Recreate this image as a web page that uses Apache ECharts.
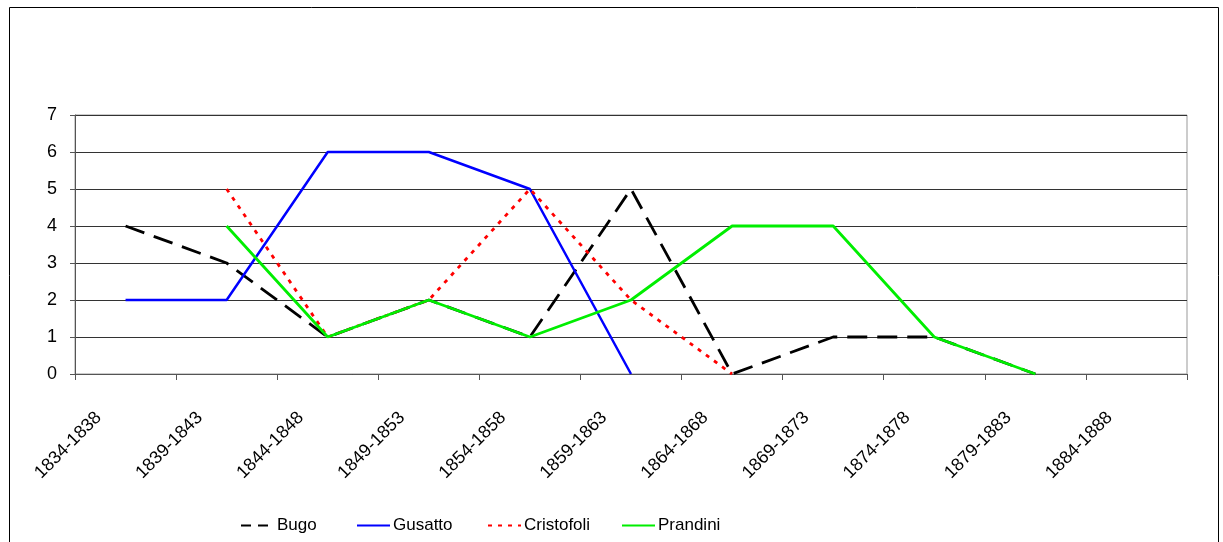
<!DOCTYPE html>
<html>
<head>
<meta charset="utf-8">
<script src="https://cdn.jsdelivr.net/npm/echarts@6/dist/echarts.min.js"></script>
<style>
  html, body { margin: 0; padding: 0; background: #fff; }
  #chart { width: 1223px; height: 542px; }
</style>
</head>
<body>
<div id="chart"></div>
<script>
var categories = ['1834-1838', '1839-1843', '1844-1848', '1849-1853', '1854-1858', '1859-1863',
                  '1864-1868', '1869-1873', '1874-1878', '1879-1883', '1884-1888'];
var bugo       = [4, 3, 1, 2, 1, 5, 0, 1, 1, 0, null];
var gusatto    = [2, 2, 6, 6, 5, 0, null, null, null, null, null];
var cristofoli = [null, 5, 1, 2, 5, 2, 0, null, null, null, null];
var prandini   = [null, 4, 1, 2, 1, 2, 4, 4, 1, 0, null];

var font = "'Liberation Sans', Arial, sans-serif";
var chart = echarts.init(document.getElementById('chart'));

function legendAt(name, left, dash) {
    var l = {
        data: [name],
        left: left,
        top: 512,
        itemWidth: 33,
        itemHeight: 14,
        itemGap: 0,
        itemStyle: { opacity: 0 },
        textStyle: { fontFamily: font, fontSize: 17, color: '#000', padding: [0, 0, 0, -2] }
    };
    if (dash) l.lineStyle = { type: dash };
    return l;
}

var option = {
    animation: false,
    backgroundColor: '#fff',
    graphic: [{
        type: 'rect',
        shape: { x: 9.5, y: 7.5, width: 1209, height: 560 },
        style: { fill: 'none', stroke: '#000', lineWidth: 1 },
        silent: true
    }],
    grid: {
        left: 75, right: 36, top: 115, bottom: 168,
        show: true, borderColor: '#999', borderWidth: 1
    },
    legend: [
        legendAt('Bugo', 235, [10, 7]),
        legendAt('Gusatto', 351),
        legendAt('Cristofoli', 482, [4, 6]),
        legendAt('Prandini', 616)
    ],
    xAxis: {
        type: 'category',
        data: categories,
        boundaryGap: true,
        axisLine: { lineStyle: { color: '#555', width: 1 } },
        axisTick: { show: true, length: 6, lineStyle: { color: '#555' } },
        axisLabel: {
            rotate: 45, margin: 14, padding: [0, 38, 0, 0],
            fontFamily: font, fontSize: 18, color: '#000'
        },
        splitLine: { show: false }
    },
    yAxis: {
        type: 'value',
        min: 0, max: 7, interval: 1,
        axisLine: { show: true, lineStyle: { color: '#555', width: 1 } },
        axisTick: { show: true, length: 5, lineStyle: { color: '#555' } },
        axisLabel: { margin: 18, fontFamily: font, fontSize: 18, color: '#000' },
        splitLine: { lineStyle: { color: '#333', width: 1 } }
    },
    series: [
        {
            name: 'Bugo', type: 'line', data: bugo, symbol: 'none',
            lineStyle: { color: '#000', width: 2.8, type: [20, 10] },
            itemStyle: { color: '#000' }
        },
        {
            name: 'Gusatto', type: 'line', data: gusatto, symbol: 'none',
            lineStyle: { color: '#0000ff', width: 2.5 },
            itemStyle: { color: '#0000ff' }
        },
        {
            name: 'Cristofoli', type: 'line', data: cristofoli, symbol: 'none',
            lineStyle: { color: '#ff0000', width: 2.8, type: [4, 6] },
            itemStyle: { color: '#ff0000' }
        },
        {
            name: 'Prandini', type: 'line', data: prandini, symbol: 'none',
            lineStyle: { color: '#00ee00', width: 2.8 },
            itemStyle: { color: '#00ee00' }
        }
    ]
};

chart.setOption(option);
</script>
</body>
</html>
